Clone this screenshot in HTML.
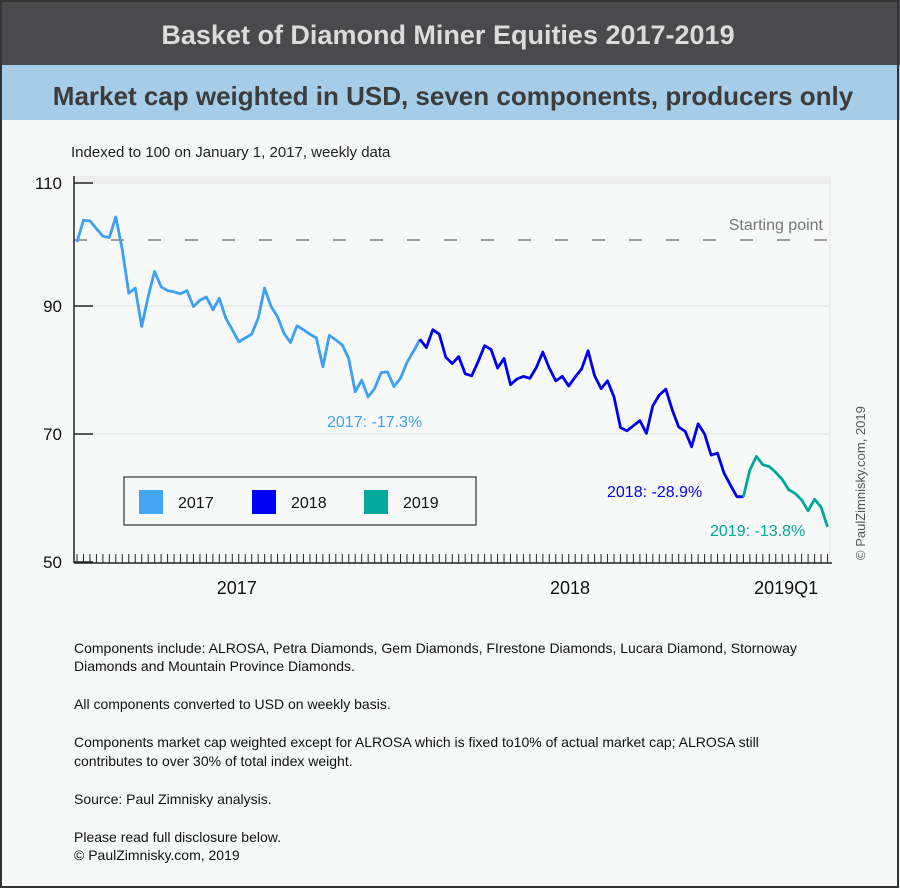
<!DOCTYPE html>
<html><head><meta charset="utf-8"><style>
body{margin:0;background:#fff;}
svg text{font-family:"Liberation Sans",sans-serif;}
</style></head><body>
<svg width="900" height="888" viewBox="0 0 900 888" xmlns="http://www.w3.org/2000/svg">
<rect x="0" y="0" width="900" height="888" fill="#f7f9f9"/>
<rect x="0" y="0" width="900" height="65" fill="#4a4a4c"/>
<text x="448" y="44" text-anchor="middle" font-size="27" font-weight="bold" fill="#dcdcdc">Basket of Diamond Miner Equities 2017-2019</text>
<rect x="0" y="65" width="900" height="55" fill="#a6cde8"/>
<text x="453" y="105" text-anchor="middle" font-size="26" font-weight="bold" fill="#3c3c3c">Market cap weighted in USD, seven components, producers only</text>
<rect x="1" y="1" width="897" height="886" fill="none" stroke="#333" stroke-width="2"/>
<text x="71" y="157" font-size="15" fill="#222">Indexed to 100 on January 1, 2017, weekly data</text>
<g id="plot"></g>
<text x="865" y="560" font-size="13" fill="#555" transform="rotate(-90 865 560)">© PaulZimnisky.com, 2019</text>
<g font-size="14" fill="#111">
<text x="74" y="653">Components include: ALROSA, Petra Diamonds, Gem Diamonds, FIrestone Diamonds, Lucara Diamond, Stornoway</text>
<text x="74" y="671">Diamonds and Mountain Province Diamonds.</text>
<text x="74" y="709">All components converted to USD on weekly basis.</text>
<text x="74" y="747">Components market cap weighted except for ALROSA which is fixed to10% of actual market cap; ALROSA still</text>
<text x="74" y="766">contributes to over 30% of total index weight.</text>
<text x="74" y="804">Source: Paul Zimnisky analysis.</text>
<text x="74" y="842">Please read full disclosure below.</text>
<text x="74" y="860">© PaulZimnisky.com, 2019</text>
</g>
</svg>
<script>
const values2017=[100,103.4,103.3,102.1,100.9,100.7,103.9,98.8,92,92.8,86.8,91.5,95.4,93,92.4,92.2,91.9,92.4,89.9,90.9,91.4,89.4,91.2,88.1,86.3,84.4,85,85.6,88.1,92.8,89.9,88.3,85.7,84.3,86.9,86.3,85.6,85,80.5,85.4,84.7,83.9,81.8,76.6,78.4,75.8,77.1,79.6,79.7,77.4,78.7,81.2,82.9,84.8];
const values2018=[84.8,83.5,86.3,85.6,82,81,82.1,79.4,79.1,81.3,83.8,83.2,80.3,81.8,77.7,78.6,79,78.7,80.4,82.8,80.3,78.3,79,77.5,78.9,80.2,83,79.1,77.1,78.3,75.8,71,70.5,71.3,72.1,70.1,74.4,76.1,77,73.8,71.1,70.4,68,71.6,70,66.7,67,63.9,62,60.2,60.2];
const values2019=[60.2,64.4,66.5,65.2,64.9,64,62.9,61.3,60.7,59.7,58,59.8,58.6,55.5];
const start2018=53, start2019=103;
const yTicks=[110,90,70,50];
const xLabels=["2017","2018","2019Q1"];
const xLabelWeeks=[24.7,76.2,109.6];
const annotations=["2017: -17.3%","2018: -28.9%","2019: -13.8%"];
const NS="http://www.w3.org/2000/svg";
const X0=77,DX=6.47,Y50=562,PY=6.4;
const xs=i=>X0+i*DX, ys=v=>Y50-(v-50)*PY;
const g=document.getElementById('plot');
function mk(t,a){const e=document.createElementNS(NS,t);for(const k in a)e.setAttribute(k,a[k]);g.appendChild(e);return e;}
const band=mk('rect',{x:74,y:176,width:756,height:7,fill:'#eeeeee'});


yTicks.forEach(v=>{
 const y=v===110?183:ys(v);
 if(v!==50){const gl=mk('line',{x1:74,x2:830,y1:y,y2:y,stroke:'#e2e2e2','stroke-width':1});
 
 }
 const tk=mk('line',{x1:74,x2:93,y1:y,y2:y,stroke:'#222','stroke-width':1.5});
 
 
 const t=mk('text',{x:62,y:y+6,'text-anchor':'end','font-size':17,fill:'#111'});t.textContent=v;
 
 
});
const rb=mk('line',{x1:830,x2:830,y1:176,y2:563,stroke:'#ececec','stroke-width':2});


const dash=mk('line',{x1:74,x2:830,y1:ys(100)-2,y2:ys(100)-2,stroke:'#666','stroke-width':1.2,'stroke-dasharray':'13,24'});


const sp=mk('text',{x:823,y:230,'text-anchor':'end','font-size':16,fill:'#777'});sp.textContent='Starting point';


const ya=mk('line',{x1:74,x2:74,y1:176,y2:563,stroke:'#222','stroke-width':1.5});


const xa=mk('line',{x1:74,x2:832,y1:563,y2:563,stroke:'#222','stroke-width':1.5});


const nW=start2019+values2019.length;
for(let i=0;i<nW;i++){const tk=mk('line',{x1:xs(i),x2:xs(i),y1:554,y2:563,stroke:'#222','stroke-width':1});
 
 }
xLabels.forEach((l,k)=>{const t=mk('text',{x:xs(xLabelWeeks[k]),y:594,'text-anchor':'middle','font-size':18,fill:'#111'});t.textContent=l;
 
 });
function line(vals,off,col,name){const p=vals.map((v,i)=>xs(off+i).toFixed(1)+','+ys(v).toFixed(1)).join(' ');
 const e=mk('polyline',{points:p,fill:'none',stroke:col,'stroke-width':2.8,'stroke-linejoin':'round'});
 
 }
line(values2017,0,'#3da0f5','series-2017');
line(values2018,start2018,'#0000ee','series-2018');
line(values2019,start2019,'#00a89a','series-2019');
const ann=[[327,427,'#3da0f5'],[607,497,'#0000ee'],[710,536,'#00a89a']];
annotations.forEach((a,k)=>{const t=mk('text',{x:ann[k][0],y:ann[k][1],'font-size':16,fill:ann[k][2]});t.textContent=a;
 
 });
const lb=mk('rect',{x:124,y:477,width:352,height:48,fill:'none',stroke:'#333','stroke-width':1.2});


[['2017','#45a6f7',139],['2018','#0000f5',252],['2019','#00ab9e',364]].forEach(([l,c,x])=>{
 const r=mk('rect',{x:x,y:490,width:24,height:24,fill:c});
 
 
 const t=mk('text',{x:x+39,y:508,'font-size':16,fill:'#111'});t.textContent=l;
 
 
});
</script>
</body></html>
